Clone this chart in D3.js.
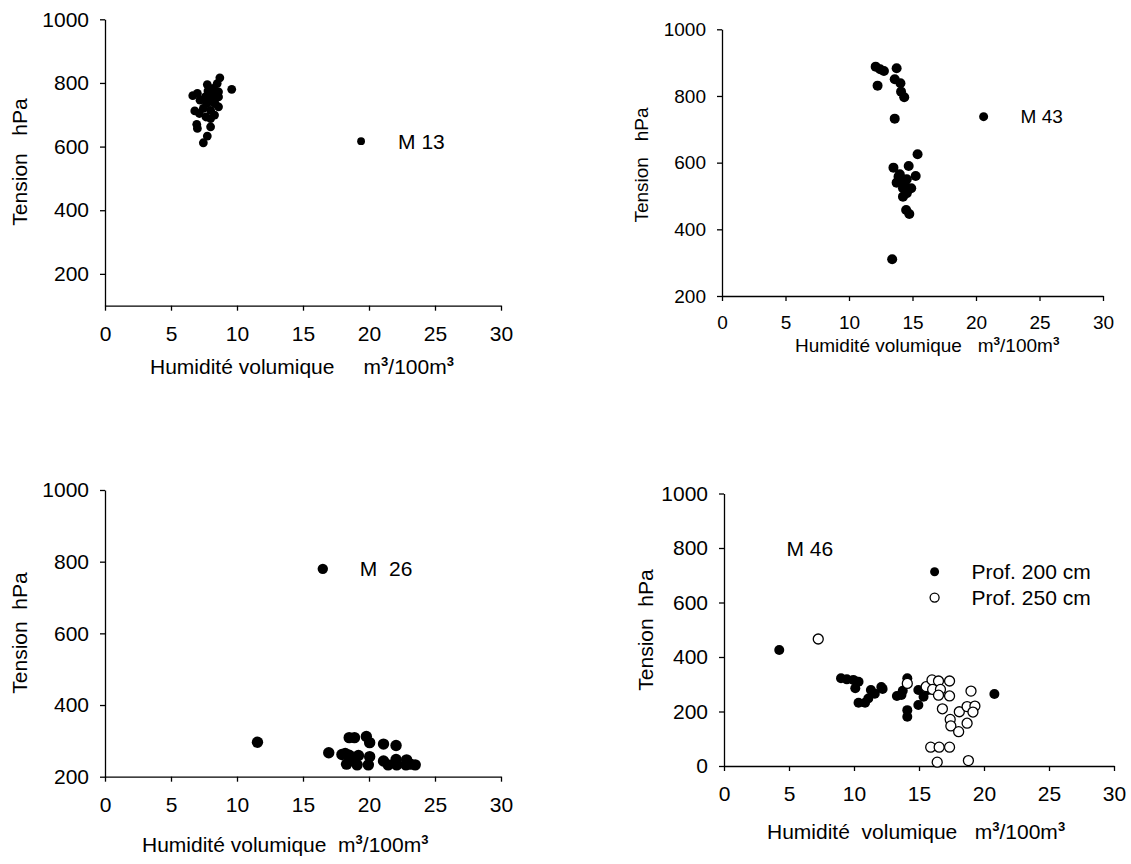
<!DOCTYPE html>
<html>
<head>
<meta charset="utf-8">
<script src="https://cdn.jsdelivr.net/npm/d3@7"></script>
<style>
  body { margin: 0; background: #fff; }
  svg text { font-family: "Liberation Sans", Arial, sans-serif; fill: #000; }
</style>
</head>
<body>
<div id="chart"></div>
<script>
// Tick values shared by the four plots
var xTicks = [0, 5, 10, 15, 20, 25, 30];
var yTicks = [200, 400, 600, 800, 1000];
var yTicksM46 = [0, 200, 400, 600, 800, 1000];

// M 13 : humidity (m3/100m3) and tension (hPa)
var m13X = [8.7, 9.6, 7.75, 6.65, 7.0, 8.2, 8.5, 7.2, 7.6, 7.95, 8.35, 8.6, 8.6, 8.1, 7.7, 8.35,
            8.6, 7.45, 6.8, 7.15, 8.0, 7.65, 8.3, 8.0, 6.95, 7.0, 8.0, 7.75, 7.45, 7.9, 8.1, 7.8];
var m13Y = [816, 780, 795, 760, 767, 783, 798, 746, 756, 751, 762, 772, 756, 741, 735, 735,
            725, 720, 712, 704, 714, 693, 699, 688, 670, 657, 662, 633, 612, 770, 760, 775];

// M 43
var m43X = [12.1, 12.45, 12.75, 13.75, 12.25, 13.6, 14.05, 14.1, 14.35, 13.6, 15.4, 13.5, 14.7, 15.25,
            13.9, 14.15, 14.55, 14.9, 13.75, 14.25, 14.25, 14.55, 14.5, 14.75, 13.4, 14.0, 14.4];
var m43Y = [888, 880, 875, 883, 831, 850, 838, 813, 796, 732, 625, 585, 590, 560,
            558, 543, 550, 523, 540, 523, 498, 508, 458, 446, 310, 565, 535];

// M 26
var m26X = [11.55, 16.95, 18.5, 18.9, 19.8, 20.05, 21.1, 22.05, 17.95, 18.5, 19.2, 20.05, 18.3,
            19.1, 19.95, 21.1, 21.45, 22.1, 22.05, 22.8, 22.85, 23.5, 23.15, 18.55, 18.2];
var m26Y = [296, 267, 309, 309, 312, 295, 291, 287, 262, 260, 259, 256, 235,
            233, 233, 244, 233, 233, 248, 233, 247, 233, 235, 247, 265];

// M 46, two depths
var m46p200X = [4.25, 9.0, 9.45, 9.95, 10.35, 10.1, 10.35, 10.85, 11.1, 11.3, 12.2, 13.3,
                13.65, 13.75, 14.1, 14.1, 14.1, 14.95, 14.95, 15.35, 15.7, 20.8, 11.6, 12.1];
var m46p200Y = [426, 322, 318, 316, 309, 285, 232, 232, 248, 279, 283, 257,
                261, 276, 322, 205, 181, 279, 224, 254, 279, 264, 265, 290];
var m46p250X = [7.25, 14.1, 15.55, 16.0, 16.5, 17.35, 16.05, 16.65, 16.5, 17.35, 19.0, 16.8, 17.4,
                17.45, 18.05, 18.1, 18.7, 19.3, 19.15, 18.7, 15.9, 16.55, 17.35, 16.4, 18.8];
var m46p250Y = [466, 303, 291, 316, 312, 312, 281, 281, 260, 257, 275, 210, 171,
                147, 126, 199, 218, 220, 198, 157, 69, 69, 69, 14, 20];

var width = 1131, height = 864;

var svg = d3.select("#chart")
    .append("svg")
    .attr("width", width)
    .attr("height", height);

// one scatter plot with its own axes, titles and legend
function drawPanel(p) {
    var fs = p.fontSize;
    var x = d3.scaleLinear().domain([0, 30]).range([p.left, p.right]);
    var y = d3.scaleLinear().domain(p.yDomain).range([p.bottom, p.top]);
    var g = svg.append("g");

    var styleAxis = a => a
        .attr("font-size", fs)
        .attr("font-family", null)
        .style("color", "#000")
        .call(a => a.selectAll("path, line").attr("stroke-width", 1.3));

    g.append("g")
        .attr("transform", `translate(0,${p.bottom})`)
        .call(d3.axisBottom(x).tickValues(xTicks).tickFormat(d3.format("d"))
            .tickSize(5).tickSizeOuter(0).tickPadding(15))
        .call(styleAxis);
    g.append("g")
        .attr("transform", `translate(${p.left},0)`)
        .call(d3.axisLeft(y).tickValues(p.yTicks).tickFormat(d3.format("d"))
            .tickSize(5).tickSizeOuter(0).tickPadding(11))
        .call(styleAxis);

    // axis titles
    g.append("text")
        .attr("transform", `translate(${p.yTitle[0]},${p.yTitle[1]}) rotate(-90)`)
        .attr("text-anchor", "middle")
        .attr("dy", "0.35em")
        .attr("font-size", fs)
        .style("white-space", "pre")
        .text(p.yLabel);
    var sup = Math.round(fs * 0.38);
    var xt = g.append("text")
        .attr("x", p.xTitle[0])
        .attr("y", p.xTitle[1])
        .attr("font-size", fs)
        .style("white-space", "pre");
    xt.append("tspan").text(p.xLabel + "m");
    xt.append("tspan").attr("dy", -sup).attr("font-size", fs * 0.62).attr("font-weight", "bold").text("3");
    xt.append("tspan").attr("dy", sup).text("/100m");
    xt.append("tspan").attr("dy", -sup).attr("font-size", fs * 0.62).attr("font-weight", "bold").text("3");

    // series
    p.series.forEach(s => {
        g.append("g")
            .selectAll("circle")
            .data(d3.zip(s.x, s.y))
            .join("circle")
              .attr("cx", d => x(d[0]))
              .attr("cy", d => y(d[1]))
              .attr("r", p.r)
              .attr("fill", s.open ? "#fff" : "#000")
              .attr("stroke", "#000")
              .attr("stroke-width", s.open ? 1.3 : 0);
    });

    // legend entries sit inside the plot area
    p.legend.forEach(l => {
        g.append("circle")
            .attr("cx", x(l.at[0]))
            .attr("cy", y(l.at[1]))
            .attr("r", p.r - 0.5)
            .attr("fill", l.open ? "#fff" : "#000")
            .attr("stroke", "#000")
            .attr("stroke-width", l.open ? 1.3 : 0);
        g.append("text")
            .attr("x", x(l.at[0]) + 37)
            .attr("y", y(l.at[1]))
            .attr("dy", "0.35em")
            .attr("font-size", fs)
            .style("white-space", "pre")
            .text(l.label);
    });
    if (p.note) {
        g.append("text")
            .attr("x", x(p.note.at[0]))
            .attr("y", y(p.note.at[1]))
            .attr("font-size", fs)
            .text(p.note.label);
    }
}

drawPanel({
    left: 105, right: 501, top: 19.3, bottom: 305.7, yDomain: [100, 1000], yTicks: yTicks, r: 4.4,
    fontSize: 21,
    yLabel: "Tension   hPa", yTitle: [20, 162],
    xLabel: "Humidité volumique     ", xTitle: [150, 374],
    series: [{ x: m13X, y: m13Y }],
    legend: [{ at: [19.4, 617], label: "M 13" }]
});
drawPanel({
    left: 722, right: 1103, top: 29.3, bottom: 296, yDomain: [200, 1000], yTicks: yTicks, r: 5,
    fontSize: 19,
    yLabel: "Tension   hPa", yTitle: [641, 165],
    xLabel: "Humidité volumique   ", xTitle: [795, 352],
    series: [{ x: m43X, y: m43Y }],
    legend: [{ at: [20.6, 738], label: "M 43" }]
});
drawPanel({
    left: 105, right: 501, top: 490, bottom: 776.7, yDomain: [200, 1000], yTicks: yTicks, r: 5.7,
    fontSize: 21,
    yLabel: "Tension  hPa", yTitle: [20, 633],
    xLabel: "Humidité volumique  ", xTitle: [142, 852],
    series: [{ x: m26X, y: m26Y }],
    legend: [{ at: [16.5, 780], label: "M  26" }]
});
drawPanel({
    left: 724, right: 1114, top: 493.5, bottom: 766, yDomain: [0, 1000], yTicks: yTicksM46, r: 5,
    fontSize: 21,
    yLabel: "Tension  hPa", yTitle: [646, 630],
    xLabel: "Humidité  volumique   ", xTitle: [767, 839],
    series: [{ x: m46p200X, y: m46p200Y }, { x: m46p250X, y: m46p250Y, open: true }],
    legend: [{ at: [16.2, 713], label: "Prof. 200 cm" },
             { at: [16.2, 618], label: "Prof. 250 cm", open: true }],
    note: { at: [4.8, 770], label: "M 46" }
});
</script>
</body>
</html>
